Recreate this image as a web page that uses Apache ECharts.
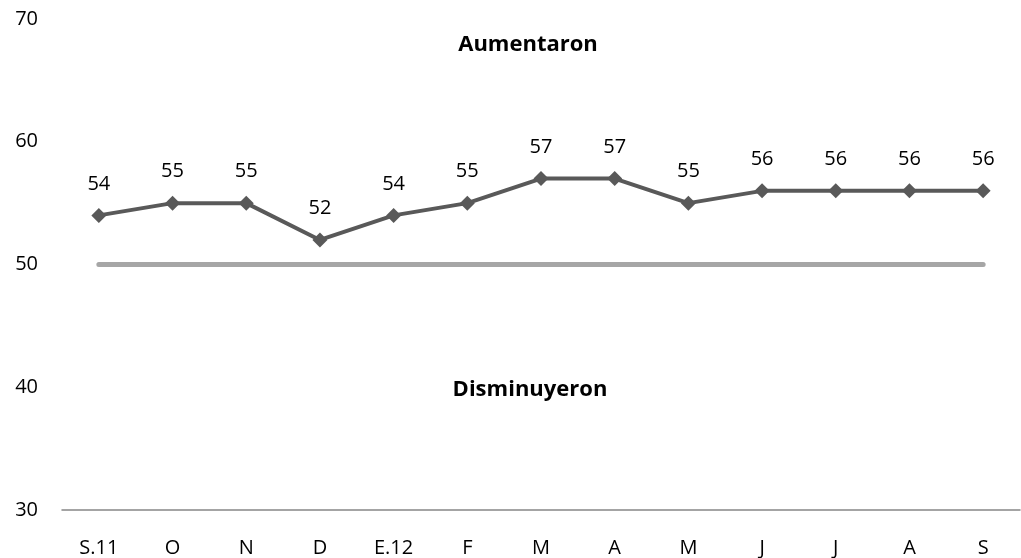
<!DOCTYPE html>
<html><head><meta charset="utf-8">
<script src="https://cdn.jsdelivr.net/npm/echarts@6/dist/echarts.min.js"></script>
<style>html,body{margin:0;padding:0;background:#fff}#c{width:1021px;height:558px}</style>
</head><body><div id="c"></div>
<script>
var categories = ['S.11','O','N','D','E.12','F','M','A','M','J','J','A','S'];
var values = [54,55,55,52,54,55,57,57,55,56,56,56,56];
var reference = [50,50,50,50,50,50,50,50,50,50,50,50,50];
var yTicks = {min:30, max:70, interval:10};
var upperText = 'Aumentaron';
var lowerText = 'Disminuyeron';

var font = '"Open Sans", sans-serif';
var chart = echarts.init(document.getElementById('c'));
chart.setOption({
  animation:false,
  textStyle:{fontFamily:font},
  grid:{left:62,right:1,top:19,bottom:48,containLabel:false},
  title:[
    {text:upperText,left:523,top:29,textAlign:'center',textStyle:{fontFamily:font,fontSize:22,fontWeight:'bold',color:'#000'}},
    {text:lowerText,left:525,top:374,textAlign:'center',textStyle:{fontFamily:font,fontSize:22,fontWeight:'bold',color:'#000'}}
  ],
  xAxis:{type:'category',data:categories,boundaryGap:true,
    axisLine:{show:true,lineStyle:{color:'#868686',width:1.5}},
    axisTick:{show:false},
    axisLabel:{color:'#000',fontSize:20,margin:28,fontFamily:font,interval:0}},
  yAxis:{type:'value',min:yTicks.min,max:yTicks.max,interval:yTicks.interval,
    axisLine:{show:false},axisTick:{show:false},splitLine:{show:false},
    axisLabel:{color:'#000',fontSize:20,margin:24,fontFamily:font}},
  series:[
    {type:'line',data:reference,symbol:'none',silent:true,
     lineStyle:{color:'#A6A6A6',width:5,cap:'round'},z:1},
    {type:'line',data:values,symbol:'diamond',symbolSize:15,
     itemStyle:{color:'#595959'},lineStyle:{color:'#595959',width:4},
     label:{show:true,position:'top',distance:14,color:'#000',fontSize:20,fontFamily:font},z:2}
  ]
});
</script></body></html>
